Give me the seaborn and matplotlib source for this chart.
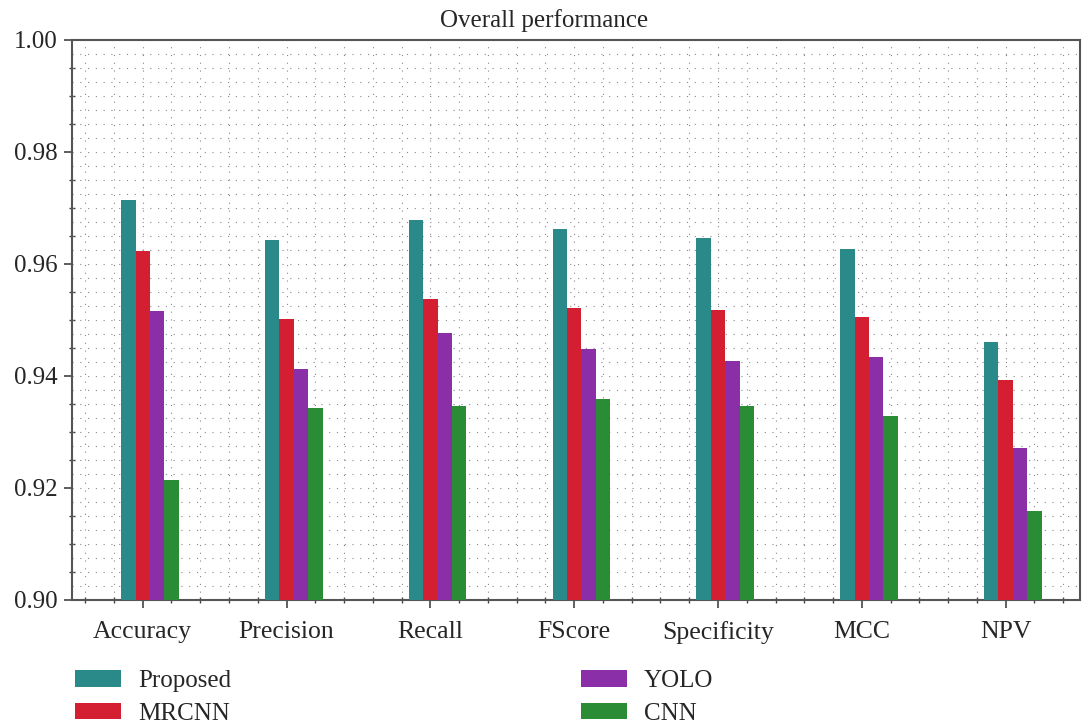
import numpy as np
import pandas as pd
import matplotlib
matplotlib.use("Agg")
import matplotlib.pyplot as plt
import seaborn as sns
from matplotlib.ticker import MultipleLocator, FixedLocator

categories = ["Accuracy", "Precision", "Recall", "FScore", "Specificity", "MCC", "NPV"]
methods = ["Proposed", "MRCNN", "YOLO", "CNN"]
proposed = [0.9714, 0.9643, 0.9679, 0.9662, 0.9646, 0.9627, 0.9461]
mrcnn = [0.9624, 0.9502, 0.9538, 0.9522, 0.9517, 0.9506, 0.9393]
yolo = [0.9516, 0.9412, 0.9477, 0.9448, 0.9427, 0.9434, 0.9272]
cnn = [0.9214, 0.9343, 0.9346, 0.9359, 0.9346, 0.9329, 0.9159]
colors = ["#2a8a8a", "#d41f33", "#8b2fa9", "#2b8c36"]
yticks = [0.90, 0.92, 0.94, 0.96, 0.98, 1.00]

rows = []
for m, vals in zip(methods, [proposed, mrcnn, yolo, cnn]):
    for c, v in zip(categories, vals):
        rows.append({"Metric": c, "Method": m, "Value": v})
df = pd.DataFrame(rows)

sns.set_theme(style="white")
plt.rcParams["font.family"] = ["Liberation Serif", "DejaVu Serif"]

fig = plt.figure(figsize=(10.84, 7.24), dpi=100)
ax = fig.add_axes([0.0664, 0.1713, 0.9299, 0.7735])

sns.barplot(data=df, x="Metric", y="Value", hue="Method", order=categories,
            hue_order=methods, palette=colors, width=0.4, gap=0,
            linewidth=0, saturation=1, ax=ax, legend=True, zorder=3)

ax.set_ylim(0.90, 1.00)
ax.set_xlim(-0.542, 6.467)
ax.set_yticks(yticks)
ax.set_yticklabels([f"{t:.2f}" for t in yticks])
ax.yaxis.set_minor_locator(MultipleLocator(0.005))
ax.set_xticks(np.arange(len(categories)) - 0.05)
ax.set_xticklabels(categories)
ax.xaxis.set_minor_locator(FixedLocator(np.arange(-0.45, 6.5, 0.2)))

ax.tick_params(axis="both", which="major", direction="out", length=6, width=1.2,
               color="#444444", pad=4, bottom=True, left=True)
ax.tick_params(axis="y", which="major", labelsize=18, pad=4)
ax.tick_params(axis="x", which="major", labelsize=18.5, pad=9)
ax.tick_params(axis="both", which="minor", direction="inout", length=4, width=1.0,
               color="#444444", bottom=True, left=True)

# dotted grid
for yv in np.arange(0.9025, 1.0, 0.0025):
    ax.axhline(yv, color="#888888", lw=0.8, ls=(0, (1, 6)), zorder=1)
for xv in np.arange(-0.45, 6.5, 0.2):
    ax.axvline(xv, color="#888888", lw=0.8, ls=(0, (1, 6)), zorder=1)

for s in ax.spines.values():
    s.set_visible(True)
    s.set_color("#555555")
    s.set_linewidth(1.5)

ax.set_xlabel("")
ax.set_ylabel("")
ax.set_title("Overall performance", fontsize=18, pad=9, x=0.468)

handles, labels = ax.get_legend_handles_labels()
ax.get_legend().remove()
fig.legend(handles, labels, loc="upper left", bbox_to_anchor=(0.060, 0.088),
           ncol=2, frameon=False, fontsize=18, handlelength=1.84, handleheight=0.64,
           handletextpad=0.68, columnspacing=14.0, labelspacing=0.42,
           borderaxespad=0)

fig.savefig("out.png", dpi=100)
